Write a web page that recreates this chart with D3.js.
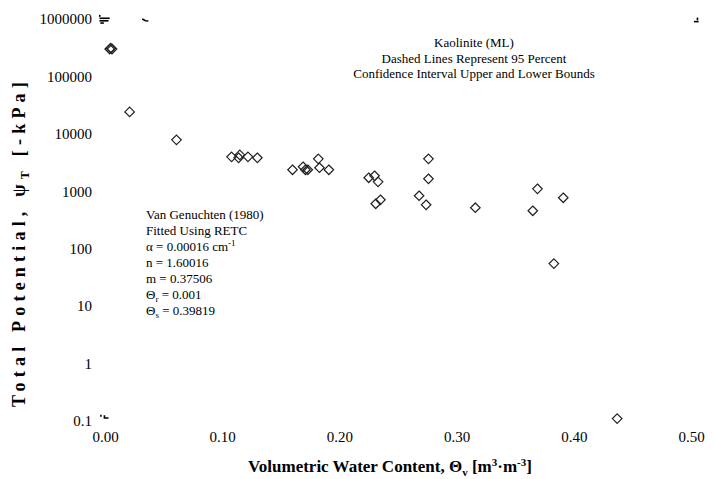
<!DOCTYPE html>
<html>
<head>
<meta charset="utf-8">
<script src="https://cdn.jsdelivr.net/npm/d3@7"></script>
<style>
  html, body { margin: 0; padding: 0; background: #fff; }
  svg { display: block; }
  text { font-family: "Liberation Serif", "Times New Roman", serif; fill: #000; }
</style>
</head>
<body>
<svg id="chart" width="714" height="479"></svg>
<script>
// Measured volumetric water content (m3/m3) and total potential (-kPa)
const theta = [0.004, 0.006, 0.005, 0.021, 0.061,
  0.108, 0.115, 0.114, 0.122, 0.130,
  0.160, 0.169, 0.171, 0.173, 0.182, 0.183, 0.191,
  0.225, 0.230, 0.233, 0.235, 0.231, 0.268, 0.274, 0.276, 0.276,
  0.316, 0.365, 0.369, 0.391, 0.383, 0.437];
const psi = [300000, 300000, 310000, 24100, 7870,
  3980, 4300, 3830, 3980, 3830,
  2370, 2670, 2370, 2370, 3670, 2570, 2370,
  1720, 1860, 1460, 711, 606, 836, 582, 3670, 1650,
  517, 458, 1104, 771, 55, 0.110];

const xTicks = [0, 0.1, 0.2, 0.3, 0.4, 0.5];
const yTicks = [0.1, 1, 10, 100, 1000, 10000, 100000, 1000000];

// Short pieces of the fitted and confidence-bound curves left at the plot edges
const curveBits = [
  [[-0.0045, 1.18e6], [-0.0045, 1.09e6]],
  [[-0.0047, 1.03e6], [0.004, 1.03e6]],
  [[-0.0047, 0.93e6], [0.003, 0.93e6]],
  [[-0.004, 0.85e6], [-0.001, 0.85e6]],
  [[0.0318, 1.0e6], [0.0345, 0.93e6], [0.037, 0.925e6]],
  [[0.5055, 1.06e6], [0.5055, 0.95e6]],
  [[0.5025, 0.9e6], [0.5065, 0.9e6]],
  [[-0.0035, 0.128], [-0.0035, 0.119]],
  [[-0.0005, 0.126], [-0.0005, 0.113], [0.003, 0.113]]
];

const svg = d3.select("#chart");
const x = d3.scaleLinear().domain([0, 0.5]).range([105, 691]);
const y = d3.scaleLog().domain([0.1, 1e6]).range([421, 19]);

// Axes: labels only, no axis lines or tick marks
const xAxis = svg.append("g")
  .attr("transform", "translate(0,431)")
  .call(d3.axisBottom(x).tickValues(xTicks).tickFormat(d3.format(".2f")).tickSize(0).tickPadding(0));
xAxis.select(".domain").remove();
xAxis.selectAll("text").attr("font-size", 15).attr("font-family", "Liberation Serif").attr("dy", "0.71em");

const yAxis = svg.append("g")
  .attr("transform", "translate(92,0)")
  .call(d3.axisLeft(y).tickValues(yTicks).tickFormat(d => d < 1 ? "0.1" : d3.format("d")(d)).tickSize(0).tickPadding(0));
yAxis.select(".domain").remove();
yAxis.selectAll("text").attr("font-size", 15).attr("font-family", "Liberation Serif");

// Curve fragments
const line = d3.line().x(d => x(d[0])).y(d => y(d[1]));
svg.append("g").selectAll("path").data(curveBits).join("path")
  .attr("d", line).attr("fill", "none").attr("stroke", "#000").attr("stroke-width", 1.6);

// Data points as open diamonds
const pts = theta.map((t, i) => [t, psi[i]]);
const diamond = d3.symbol().type(d3.symbolDiamond2).size(58);
svg.append("g").selectAll("path").data(pts).join("path")
  .attr("transform", d => `translate(${x(d[0])},${y(d[1])})`)
  .attr("d", diamond)
  .attr("fill", "none").attr("stroke", "#222").attr("stroke-width", 1.2);

// Title block
const title = svg.append("text").attr("text-anchor", "middle").attr("font-size", 13);
["Kaolinite (ML)", "Dashed Lines Represent 95 Percent", "Confidence Interval Upper and Lower Bounds"]
  .forEach((s, i) => title.append("tspan").attr("x", 474).attr("y", 47 + i * 15.5).text(s));

// Model parameters
const params = svg.append("text").attr("font-size", 13);
const px = 146, py0 = 219, lh = 16;
params.append("tspan").attr("x", px).attr("y", py0).text("Van Genuchten (1980)");
params.append("tspan").attr("x", px).attr("y", py0 + lh).text("Fitted Using RETC");
params.append("tspan").attr("x", px).attr("y", py0 + 2 * lh).text("α = 0.00016 cm");
params.append("tspan").attr("dy", -5).attr("font-size", 9).text("-1");
params.append("tspan").attr("x", px).attr("y", py0 + 3 * lh).text("n = 1.60016");
params.append("tspan").attr("x", px).attr("y", py0 + 4 * lh).text("m = 0.37506");
params.append("tspan").attr("x", px).attr("y", py0 + 5 * lh).text("Θ");
params.append("tspan").attr("dy", 3).attr("font-size", 9).text("r");
params.append("tspan").attr("dy", -3).text(" = 0.001");
params.append("tspan").attr("x", px).attr("y", py0 + 6 * lh).text("Θ");
params.append("tspan").attr("dy", 3).attr("font-size", 9).text("s");
params.append("tspan").attr("dy", -3).text(" = 0.39819");

// Axis titles
const xt = svg.append("text").attr("text-anchor", "middle").attr("font-size", 17).attr("font-weight", "bold")
  .attr("x", 390).attr("y", 472);
xt.append("tspan").text("Volumetric Water Content, Θ");
xt.append("tspan").attr("dy", 4).attr("font-size", 11).text("v");
xt.append("tspan").attr("dy", -4).text(" [m");
xt.append("tspan").attr("dy", -6).attr("font-size", 11).text("3");
xt.append("tspan").attr("dy", 6).text("·m");
xt.append("tspan").attr("dy", -6).attr("font-size", 11).text("-3");
xt.append("tspan").attr("dy", 6).text("]");

const yt = svg.append("text").attr("text-anchor", "middle").attr("font-size", 18).attr("font-weight", "bold")
  .attr("letter-spacing", 5.2)
  .attr("transform", "translate(25,242) rotate(-90)");
yt.append("tspan").text("Total Potential, ψ");
yt.append("tspan").attr("dy", 4).attr("font-size", 12).text("T");
yt.append("tspan").attr("dy", -4).text(" [-kPa]");
</script>
</body>
</html>
